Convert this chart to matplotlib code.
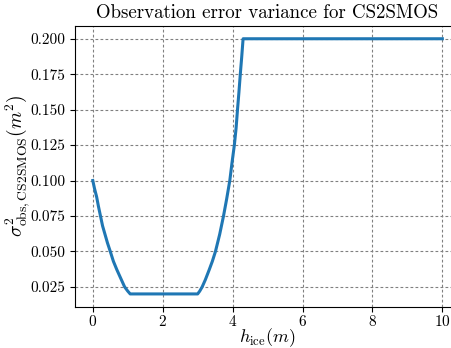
import matplotlib
matplotlib.use("Agg")
import matplotlib.pyplot as plt

plt.rcParams['font.family'] = 'cmr10'
plt.rcParams['mathtext.fontset'] = 'cm'
plt.rcParams['axes.formatter.use_mathtext'] = True

# ice thickness (m) and observation error variance (m^2)
h_ice = [0.0, 0.05, 0.11, 0.16, 0.22, 0.28, 0.35, 0.42, 0.50, 0.59, 0.69, 0.80,
         0.91, 1.0, 1.07,
         3.0, 3.06, 3.13, 3.22, 3.33, 3.42, 3.51, 3.63, 3.74, 3.83, 3.92, 3.98,
         4.05, 4.10, 4.14, 4.18, 4.22, 4.26, 4.30, 10.0]
sigma2 = [0.100, 0.0943, 0.0885, 0.0820, 0.075, 0.068, 0.062, 0.056, 0.050, 0.043,
          0.037, 0.031, 0.025, 0.022, 0.020,
          0.020, 0.022, 0.025, 0.030, 0.037, 0.043, 0.050, 0.062, 0.075, 0.087,
          0.100, 0.112, 0.125, 0.137, 0.150, 0.162, 0.175, 0.187, 0.200, 0.200]

fig = plt.figure(figsize=(4.52, 3.48), dpi=100)
ax = fig.add_axes([0.1666, 0.1187, 0.8507, 0.8066])
ax.plot(h_ice, sigma2, color='tab:blue', linewidth=2.2)
ax.grid(True, linestyle=(0, (2.5, 2)), color='gray', linewidth=0.8)
ax.set_xticks([0, 2, 4, 6, 8, 10])
ax.set_yticks([0.025, 0.05, 0.075, 0.1, 0.125, 0.15, 0.175, 0.2])
ax.set_yticklabels(['0.025', '0.050', '0.075', '0.100', '0.125', '0.150', '0.175', '0.200'])
ax.tick_params(labelsize=11)
ax.tick_params(axis='x', pad=2)
ax.set_xlabel(r'$h_{\rm ice} (m)$', fontsize=13, labelpad=-2)
ax.set_ylabel(r'$\sigma^2_{\rm obs, CS2SMOS} (m^2)$', fontsize=14, labelpad=-1)
ax.set_title('Observation error variance for CS2SMOS', fontsize=13.6)

fig.savefig('out.png', dpi=100)
